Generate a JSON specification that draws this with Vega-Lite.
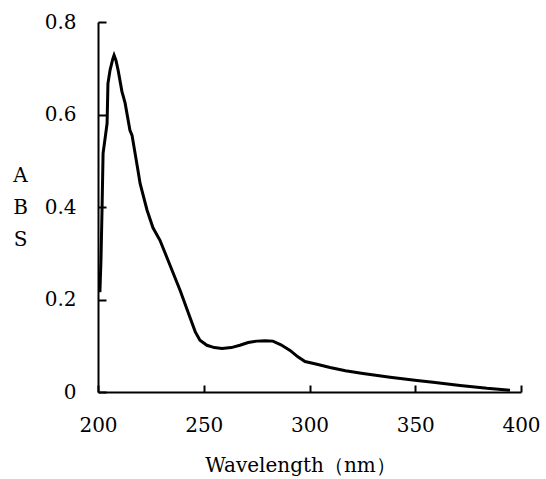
{
  "$schema": "https://vega.github.io/schema/vega-lite/v6.json",
  "width": 423,
  "height": 370,
  "autosize": "none",
  "padding": {"left": 98, "top": 22, "right": 25, "bottom": 87},
  "background": "white",
  "config": {
    "view": {"stroke": null},
    "axis": {
      "grid": false,
      "domainColor": "black",
      "domainWidth": 2,
      "tickColor": "black",
      "tickWidth": 2,
      "labelFont": "DejaVu Serif",
      "labelFontSize": 20,
      "labelColor": "black",
      "titleFont": "DejaVu Serif",
      "titleFontSize": 20,
      "titleFontWeight": "normal",
      "titleColor": "black"
    }
  },
  "data": {
    "values": [
      {"wl": 200.9, "abs": 0.216},
      {"wl": 201.4, "abs": 0.285},
      {"wl": 201.9, "abs": 0.393},
      {"wl": 202.4, "abs": 0.516},
      {"wl": 203.4, "abs": 0.55},
      {"wl": 204.3, "abs": 0.581},
      {"wl": 204.7, "abs": 0.667},
      {"wl": 205.7, "abs": 0.696},
      {"wl": 207.0, "abs": 0.72},
      {"wl": 207.6, "abs": 0.728},
      {"wl": 208.5, "abs": 0.717},
      {"wl": 209.5, "abs": 0.696},
      {"wl": 211.3, "abs": 0.65},
      {"wl": 212.8, "abs": 0.625},
      {"wl": 215.1, "abs": 0.566},
      {"wl": 216.1, "abs": 0.555},
      {"wl": 218.9, "abs": 0.479},
      {"wl": 219.9, "abs": 0.451},
      {"wl": 223.2, "abs": 0.393},
      {"wl": 226.0, "abs": 0.355},
      {"wl": 229.3, "abs": 0.328},
      {"wl": 233.1, "abs": 0.285},
      {"wl": 238.8, "abs": 0.22},
      {"wl": 243.5, "abs": 0.161},
      {"wl": 246.0, "abs": 0.13},
      {"wl": 248.2, "abs": 0.112},
      {"wl": 251.5, "abs": 0.101},
      {"wl": 255.0, "abs": 0.096},
      {"wl": 258.6, "abs": 0.094},
      {"wl": 263.0, "abs": 0.096},
      {"wl": 267.1, "abs": 0.101},
      {"wl": 271.0, "abs": 0.107},
      {"wl": 275.2, "abs": 0.110},
      {"wl": 279.0, "abs": 0.111},
      {"wl": 282.7, "abs": 0.110},
      {"wl": 286.5, "abs": 0.102},
      {"wl": 290.8, "abs": 0.09},
      {"wl": 294.5, "abs": 0.076},
      {"wl": 297.9, "abs": 0.066},
      {"wl": 303.5, "abs": 0.06},
      {"wl": 309.7, "abs": 0.053},
      {"wl": 317.0, "abs": 0.046},
      {"wl": 325.3, "abs": 0.040},
      {"wl": 338.1, "abs": 0.032},
      {"wl": 350.8, "abs": 0.025},
      {"wl": 358.4, "abs": 0.021},
      {"wl": 371.2, "abs": 0.014},
      {"wl": 383.9, "abs": 0.008},
      {"wl": 394.8, "abs": 0.004}
    ]
  },
  "mark": {"type": "line", "color": "black", "strokeWidth": 3, "interpolate": "linear"},
  "encoding": {
    "x": {
      "field": "wl",
      "type": "quantitative",
      "scale": {"domain": [200, 400], "nice": false, "zero": false},
      "axis": {
        "values": [200, 250, 300, 350, 400],
        "tickSize": -7,
        "labelPadding": 30,
        "labelFlush": false,
        "title": "Wavelength（nm）",
        "titlePadding": 20,
        "titleX": 202
      }
    },
    "y": {
      "field": "abs",
      "type": "quantitative",
      "scale": {"domain": [0, 0.8], "nice": false},
      "axis": {
        "values": [0, 0.2, 0.4, 0.6, 0.8],
        "labelExpr": "datum.value == 0 ? '0' : format(datum.value, '.1f')",
        "tickSize": -8,
        "labelPadding": 30,
        "labelFlush": false,
        "title": ["A", "B", "S"],
        "titleAngle": 0,
        "titleAlign": "center",
        "titleBaseline": "middle",
        "titleLineHeight": 32,
        "titleX": -78,
        "titleY": 153
      }
    }
  }
}
